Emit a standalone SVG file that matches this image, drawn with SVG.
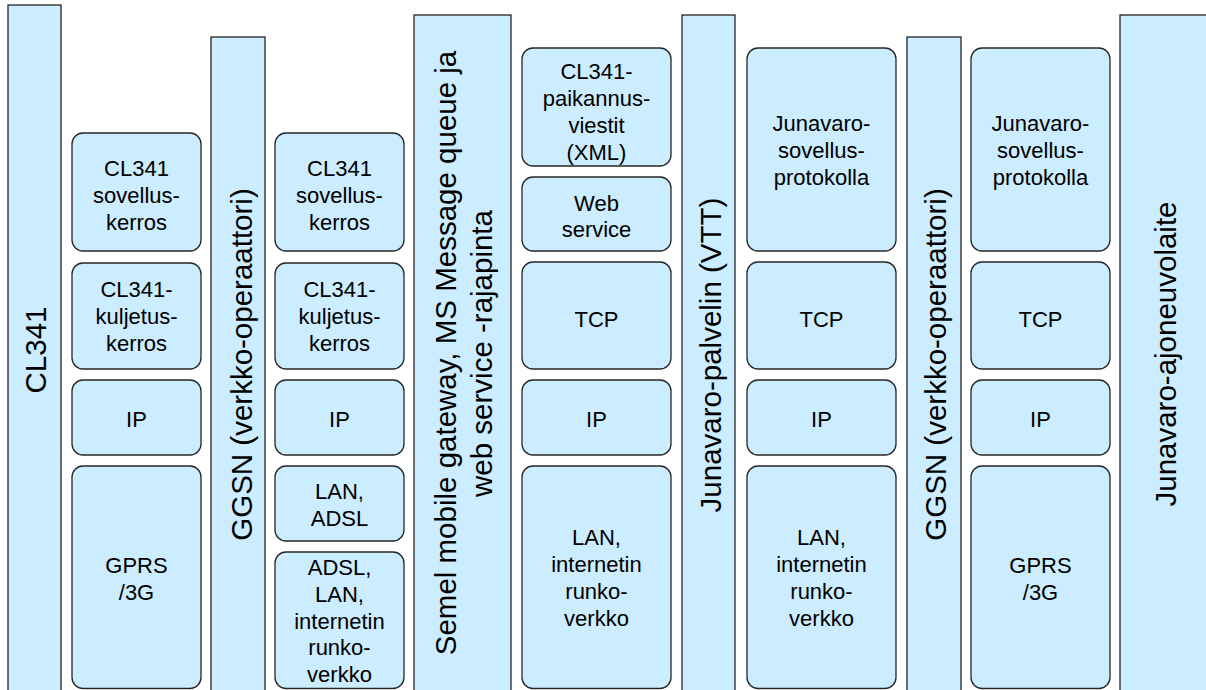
<svg xmlns="http://www.w3.org/2000/svg" width="1206" height="690" viewBox="0 0 1206 690">
<style>
.bar{fill:#CCECFF;stroke:#262626;stroke-width:1.3}
.box{fill:#CCECFF;stroke:#262626;stroke-width:1.3}
.big{font-family:"Liberation Sans",Arial,sans-serif;font-size:29.5px;fill:#000;text-anchor:middle}
.t{font-family:"Liberation Sans",Arial,sans-serif;font-size:22px;fill:#000;text-anchor:middle}
</style>
<rect width="1206" height="690" fill="#fff"/>
<g id="bar-cl341"><rect class="bar" x="8" y="5" width="53" height="690"/><text class="big" transform="translate(45.5,350) rotate(-90)">CL341</text></g>
<g id="bar-ggsn1"><rect class="bar" x="211" y="37" width="54" height="658"/><text class="big" transform="translate(252,364.5) rotate(-90)">GGSN (verkko-operaattori)</text></g>
<g id="bar-semel"><rect class="bar" x="414" y="15" width="97" height="680"/><text class="big" transform="translate(456,353) rotate(-90)">Semel mobile gateway, MS Message queue ja</text><text class="big" transform="translate(492,353.5) rotate(-90)">web service -rajapinta</text></g>
<g id="bar-palvelin"><rect class="bar" x="682" y="15" width="53" height="680"/><text class="big" transform="translate(721,355) rotate(-90)">Junavaro-palvelin (VTT)</text></g>
<g id="bar-ggsn2"><rect class="bar" x="907" y="37" width="54" height="658"/><text class="big" transform="translate(945.5,364.5) rotate(-90)">GGSN (verkko-operaattori)</text></g>
<g id="bar-ajoneuvo"><rect class="bar" x="1120" y="15" width="92" height="680"/><text class="big" transform="translate(1175.5,354) rotate(-90)">Junavaro-ajoneuvolaite</text></g>

<g id="c1-sovellus"><rect class="box" x="72" y="133" width="129" height="118" rx="11"/><text class="t" x="136.5" y="175.5">CL341</text><text class="t" x="136.5" y="202.5">sovellus-</text><text class="t" x="136.5" y="229.5">kerros</text></g>
<g id="c1-kuljetus"><rect class="box" x="72" y="263" width="129" height="106" rx="11"/><text class="t" x="136.5" y="297">CL341-</text><text class="t" x="136.5" y="324">kuljetus-</text><text class="t" x="136.5" y="351">kerros</text></g>
<g id="c1-ip"><rect class="box" x="72" y="380" width="129" height="75" rx="11"/><text class="t" x="136.5" y="427">IP</text></g>
<g id="c1-gprs"><rect class="box" x="72" y="466" width="129" height="222.5" rx="11"/><text class="t" x="136.5" y="573">GPRS</text><text class="t" x="136.5" y="600">/3G</text></g>

<g id="c2-sovellus"><rect class="box" x="275" y="133" width="129" height="118" rx="11"/><text class="t" x="339.5" y="175.5">CL341</text><text class="t" x="339.5" y="202.5">sovellus-</text><text class="t" x="339.5" y="229.5">kerros</text></g>
<g id="c2-kuljetus"><rect class="box" x="275" y="263" width="129" height="106" rx="11"/><text class="t" x="339.5" y="297">CL341-</text><text class="t" x="339.5" y="324">kuljetus-</text><text class="t" x="339.5" y="351">kerros</text></g>
<g id="c2-ip"><rect class="box" x="275" y="380" width="129" height="75" rx="11"/><text class="t" x="339.5" y="427">IP</text></g>
<g id="c2-lan"><rect class="box" x="275" y="466" width="129" height="75" rx="11"/><text class="t" x="339.5" y="499">LAN,</text><text class="t" x="339.5" y="526">ADSL</text></g>
<g id="c2-adsl"><rect class="box" x="275" y="552" width="129" height="136.5" rx="11"/><text class="t" x="339.5" y="575">ADSL,</text><text class="t" x="339.5" y="602">LAN,</text><text class="t" x="339.5" y="628.5">internetin</text><text class="t" x="339.5" y="655">runko-</text><text class="t" x="339.5" y="682">verkko</text></g>

<g id="c3-paikannus"><rect class="box" x="522" y="48" width="149" height="118" rx="11"/><text class="t" x="596.5" y="79">CL341-</text><text class="t" x="596.5" y="106">paikannus-</text><text class="t" x="596.5" y="133">viestit</text><text class="t" x="596.5" y="159.5">(XML)</text></g>
<g id="c3-web"><rect class="box" x="522" y="177" width="149" height="74" rx="11"/><text class="t" x="596.5" y="210.5">Web</text><text class="t" x="596.5" y="236.5">service</text></g>
<g id="c3-tcp"><rect class="box" x="522" y="262" width="149" height="107" rx="11"/><text class="t" x="596.5" y="327">TCP</text></g>
<g id="c3-ip"><rect class="box" x="522" y="380" width="149" height="75" rx="11"/><text class="t" x="596.5" y="427">IP</text></g>
<g id="c3-lan"><rect class="box" x="522" y="466" width="149" height="222.5" rx="11"/><text class="t" x="596.5" y="545">LAN,</text><text class="t" x="596.5" y="572">internetin</text><text class="t" x="596.5" y="599">runko-</text><text class="t" x="596.5" y="626">verkko</text></g>

<g id="c4-sovellus"><rect class="box" x="747" y="48" width="149" height="203" rx="11"/><text class="t" x="821.5" y="131">Junavaro-</text><text class="t" x="821.5" y="158">sovellus-</text><text class="t" x="821.5" y="184.5">protokolla</text></g>
<g id="c4-tcp"><rect class="box" x="747" y="262" width="149" height="107" rx="11"/><text class="t" x="821.5" y="327">TCP</text></g>
<g id="c4-ip"><rect class="box" x="747" y="380" width="149" height="75" rx="11"/><text class="t" x="821.5" y="427">IP</text></g>
<g id="c4-lan"><rect class="box" x="747" y="466" width="149" height="222.5" rx="11"/><text class="t" x="821.5" y="545">LAN,</text><text class="t" x="821.5" y="572">internetin</text><text class="t" x="821.5" y="599">runko-</text><text class="t" x="821.5" y="626">verkko</text></g>

<g id="c5-sovellus"><rect class="box" x="971" y="48" width="139" height="203" rx="11"/><text class="t" x="1040.5" y="131">Junavaro-</text><text class="t" x="1040.5" y="158">sovellus-</text><text class="t" x="1040.5" y="184.5">protokolla</text></g>
<g id="c5-tcp"><rect class="box" x="971" y="262" width="139" height="107" rx="11"/><text class="t" x="1040.5" y="327">TCP</text></g>
<g id="c5-ip"><rect class="box" x="971" y="380" width="139" height="75" rx="11"/><text class="t" x="1040.5" y="427">IP</text></g>
<g id="c5-gprs"><rect class="box" x="971" y="466" width="139" height="222.5" rx="11"/><text class="t" x="1040.5" y="573">GPRS</text><text class="t" x="1040.5" y="600">/3G</text></g>

<g id="connectors"></g>
</svg>
